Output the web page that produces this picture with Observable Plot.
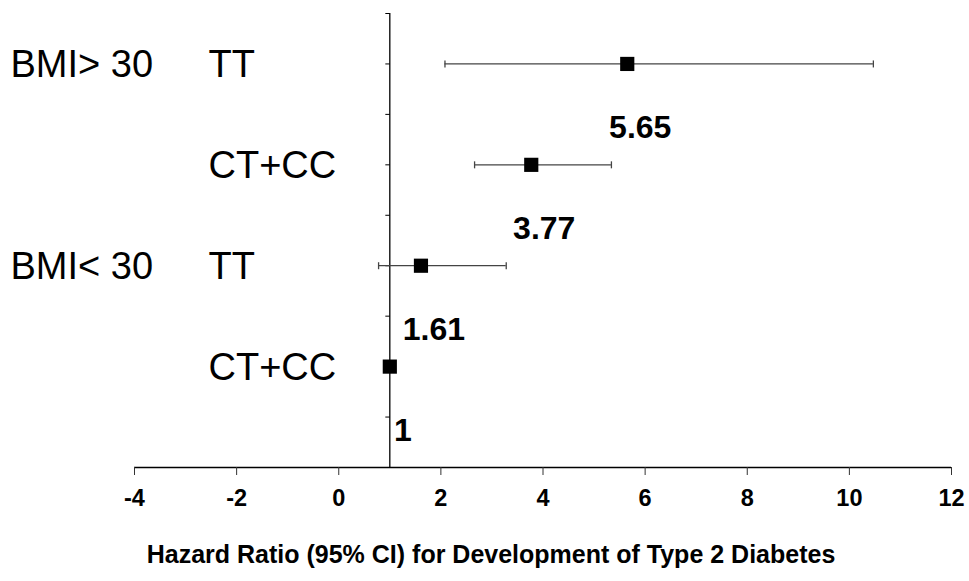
<!DOCTYPE html>
<html>
<head>
<meta charset="utf-8">
<script src="https://cdn.jsdelivr.net/npm/d3@7"></script>
<script src="https://cdn.jsdelivr.net/npm/@observablehq/plot@0.6"></script>
<style>
  html, body { margin: 0; padding: 0; background: #fff; }
  svg { display: block; }
</style>
</head>
<body>
<div id="chart"></div>
<script>
// ---- data ----
const groups = ["BMI> 30", "", "BMI< 30", ""];
const genotypes = ["TT", "CT+CC", "TT", "CT+CC"];
const rowPos = [8, 6, 4, 2];            // row slots on the vertical axis (0..9)
const hr = [5.65, 3.77, 1.61, 1];
const lower = [2.08, 2.66, 0.78, null];
const upper = [10.47, 5.34, 3.28, null];
const hrLabels = ["5.65", "3.77", "1.61", "1"];
const xTicks = [-4, -2, 0, 2, 4, 6, 8, 10, 12];
const yTicks = [1, 2, 3, 4, 5, 6, 7, 8, 9];
const refHR = 1;
const xTitle = "Hazard Ratio (95% CI) for Development of Type 2 Diabetes";

const rows = hr.map((v, i) => ({
  group: groups[i], genotype: genotypes[i], y: rowPos[i],
  hr: v, lo: lower[i], hi: upper[i], label: hrLabels[i]
}));
const ciRows = rows.filter(d => d.lo != null);
const caps = ciRows.flatMap(d => [{x: d.lo, y: d.y}, {x: d.hi, y: d.y}]);

// custom symbols
const leftTick = { draw(ctx) { ctx.moveTo(0, 0); ctx.lineTo(-4.5, 0); } };
const capTick = { draw(ctx) { ctx.moveTo(0, -3.5); ctx.lineTo(0, 3.5); } };

const font = "'Liberation Sans', Arial, Helvetica, sans-serif";

const chart = Plot.plot({
  width: 969,
  height: 581,
  marginLeft: 134,
  marginRight: 18,
  marginTop: 13,
  marginBottom: 114,
  style: { fontFamily: font, background: "#fff", color: "#000" },
  x: { domain: [-4, 12] },
  y: { domain: [0, 9], axis: null },
  marks: [
    // x axis line and ticks
    Plot.ruleY([0], { stroke: "#000", strokeWidth: 1.3 }),
    Plot.axisX(xTicks, { tickSize: 8, stroke: "#333", label: null, tickFormat: () => "" }),
    // x tick labels
    Plot.text(xTicks, {
      x: d => d, text: d => String(d), frameAnchor: "bottom", dy: 38,
      fontSize: 23.5, fontWeight: "bold", fill: "#000"
    }),
    // reference vertical line at HR = 1
    Plot.ruleX([refHR], { y1: 0, y2: 9, stroke: "#000", strokeWidth: 1.3 }),
    Plot.dot(yTicks, { x: refHR, y: d => d, symbol: leftTick, stroke: "#000", fill: "none", strokeWidth: 1 }),
    // confidence intervals
    Plot.ruleY(ciRows, { x1: "lo", x2: "hi", y: "y", stroke: "#444", strokeWidth: 1.3 }),
    Plot.dot(caps, { x: "x", y: "y", symbol: capTick, stroke: "#444", fill: "none", strokeWidth: 1.3 }),
    // point estimates
    Plot.dot(rows, { x: "hr", y: "y", symbol: "square", r: 8, fill: "#000", stroke: "none" }),
    // value labels
    Plot.text(rows, {
      x: "hr", y: "y", text: "label", dx: 13, dy: 64,
      fontSize: 32, fontWeight: "bold", fill: "#000", textAnchor: "middle"
    }),
    // row labels in the left margin
    Plot.text(rows, {
      y: "y", text: "group", frameAnchor: "left", dx: -124, dy: 1,
      textAnchor: "start", fontSize: 38, fill: "#000"
    }),
    Plot.text(rows, {
      y: "y", text: "genotype", frameAnchor: "left", dx: 74, dy: 1,
      textAnchor: "start", fontSize: 38, fill: "#000"
    }),
    // axis title
    Plot.text([xTitle], {
      text: d => d, frameAnchor: "bottom", dx: -52, dy: 95,
      fontSize: 25, fontWeight: "bold", fill: "#000"
    })
  ]
});

document.getElementById("chart").appendChild(chart);
</script>
</body>
</html>
